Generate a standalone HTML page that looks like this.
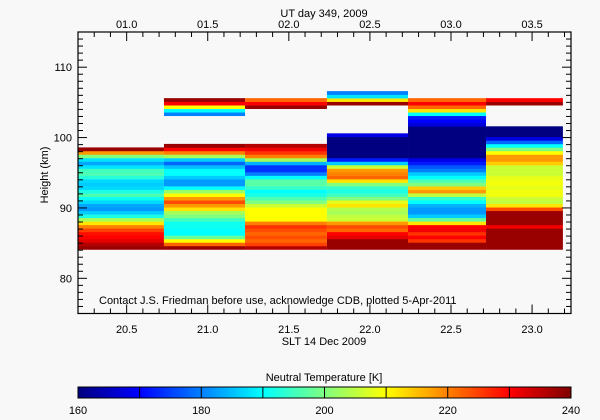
<!DOCTYPE html>
<html><head><meta charset="utf-8"><style>
html,body{margin:0;padding:0;background:#f8f8f8;}
svg{display:block;font-family:"Liberation Sans",sans-serif;}
text{fill:#000;font-size:11px;}
</style></head><body>
<svg id="chart" width="600" height="420" viewBox="0 0 600 420">
<rect x="0" y="0" width="600" height="420" fill="#f8f8f8"/>
<g id="cells"></g>
<g id="axes"></g>
<text x="99" y="304" font-size="10.5">Contact J.S. Friedman before use, acknowledge CDB, plotted 5-Apr-2011</text>
<text x="324" y="345" text-anchor="middle">SLT 14 Dec 2009</text>
<text x="324" y="17" text-anchor="middle">UT day 349, 2009</text>
<text transform="translate(48,175) rotate(-90)" text-anchor="middle">Height (km)</text>
<text x="324" y="381" text-anchor="middle" font-size="12">Neutral Temperature [K]</text>
<g id="cbar"></g>
</svg>
<script>
const colEdges = [20.2, 20.73, 21.23, 21.735, 22.235, 22.716, 23.19];
const baseHeight = 84.1;
const bandStep = 0.5;
const col1 = [238,236,232,230,229,225,220,212,203,192,186,182,183,187,191,196,192,187,186,187,193,196,195,188,183,188,200,218,238];
const col2 = [238,222,210,198,190,190,191,191,195,200,203,212,218,224,218,210,202,190,182,182,186,190,190,185,178,186,203,220,230,238,null,null,null,null,null,null,null,null,180,190,210,230,238];
const col3 = [236,225,222,224,222,224,226,220,210,210,210,210,206,200,196,192,190,194,197,197,190,180,174,174,184,203,220,226,231,236,null,null,null,null,null,null,null,null,null,null,238,230,222];
const col4 = [238,238,238,232,230,222,224,218,206,205,203,204,212,208,200,195,192,194,200,212,222,220,218,206,186,172,160,160,160,160,160,160,168,null,null,null,null,null,null,null,null,238,212,188,180];
const col5 = [238,238,226,230,226,231,230,212,198,186,182,182,184,190,194,205,218,214,200,196,190,186,180,177,172,168,160,160,160,160,160,160,160,160,160,167,170,172,190,212,222,230,222];
const col6 = [238,238,238,238,238,238,231,238,238,238,238,224,212,205,206,209,209,208,209,209,208,206,206,206,214,218,218,210,200,190,178,168,160,160,160,null,null,null,null,null,null,238,230];
const columns = [col1,col2,col3,col4,col5,col6];
const sltTicks = ["20.5","21.0","21.5","22.0","22.5","23.0"];
const utTicks = ["01.0","01.5","02.0","02.5","03.0","03.5"];
const yTicks = ["80","90","100","110"];
const cbarTicks = ["160","180","200","220","240"];

const L=78,R=571,T=32,B=313.5;
const xMin=20.2,xMax=23.24,yMin=75,yMax=115,utOffset=19.5;
const tMin=160,tMax=240;
const sx=v=>L+(v-xMin)/(xMax-xMin)*(R-L);
const sy=v=>B-(v-yMin)/(yMax-yMin)*(B-T);
const ux=u=>sx(u+utOffset);
function jet(t){let x=(t-tMin)/(tMax-tMin);x=Math.max(0,Math.min(1,x));
const c=v=>Math.round(255*Math.max(0,Math.min(1,v)));
return `rgb(${c(1.5-Math.abs(4*x-3))},${c(1.5-Math.abs(4*x-2))},${c(1.5-Math.abs(4*x-1))})`;}
const NS="http://www.w3.org/2000/svg";
function mk(tag,attrs,parent){const e=document.createElementNS(NS,tag);for(const k in attrs)e.setAttribute(k,attrs[k]);parent.appendChild(e);return e;}
const cells=document.getElementById('cells');
columns.forEach((col,ci)=>{
  const x0=sx(colEdges[ci]),x1=sx(colEdges[ci+1]);
  col.forEach((v,bi)=>{
    if(v===null)return;
    const h0=baseHeight+bi*bandStep,h1=h0+bandStep;
    const r=mk('rect',{x:x0,y:sy(h1),width:x1-x0,height:sy(h0)-sy(h1)+0.3,fill:jet(v)},cells);
    
    
  });
});
const ax=document.getElementById('axes');
const frame=mk('rect',{x:L,y:T,width:R-L,height:B-T,fill:'none',stroke:'#000','stroke-width':1.2},ax);


function ln(x1,y1,x2,y2,p){mk('line',{x1,y1,x2,y2,stroke:'#000','stroke-width':1},p);}
for(let h=76;h<=114;h++){const y=sy(h);const len=(h%10===0)?9:5;ln(L,y,L+len,y,ax);ln(R,y,R-len,y,ax);}
yTicks.forEach(s=>{const t=mk('text',{x:L-6,y:sy(+s)+4,'text-anchor':'end'},ax);t.textContent=s;

});
for(let i=0;;i++){const v=20.3+i*0.1;if(v>xMax)break;const maj=Math.abs(v*2-Math.round(v*2))<1e-6;ln(sx(v),B,sx(v),B-(maj?9:5),ax);}
sltTicks.forEach(s=>{const t=mk('text',{x:sx(+s),y:333,'text-anchor':'middle'},ax);t.textContent=s;

});
for(let i=0;;i++){const u=0.8+i*0.1;if(ux(u)>R)break;if(ux(u)<L)continue;const maj=Math.abs(u*2-Math.round(u*2))<1e-6;ln(ux(u),T,ux(u),T+(maj?9:5),ax);}
utTicks.forEach(s=>{const t=mk('text',{x:ux(+s),y:28,'text-anchor':'middle'},ax);t.textContent=s;

});
const cb=document.getElementById('cbar');
const cL=78,cR=571,cT=387,cB=398;
for(let i=0;i<200;i++){const x=cL+i*(cR-cL)/200;mk('rect',{x,y:cT,width:(cR-cL)/200+0.5,height:cB-cT,fill:jet(tMin+(i+0.5)/200*(tMax-tMin))},cb);}
mk('rect',{x:cL,y:cT,width:cR-cL,height:cB-cT,fill:'none',stroke:'#000','stroke-width':1},cb);
for(let v=170;v<240;v+=10){const x=cL+(v-tMin)/(tMax-tMin)*(cR-cL);ln(x,cT,x,cB,cb);}
cbarTicks.forEach(s=>{const t=mk('text',{x:cL+(+s-tMin)/(tMax-tMin)*(cR-cL),y:414,'text-anchor':'middle'},cb);t.textContent=s;

});
</script>
</body></html>
